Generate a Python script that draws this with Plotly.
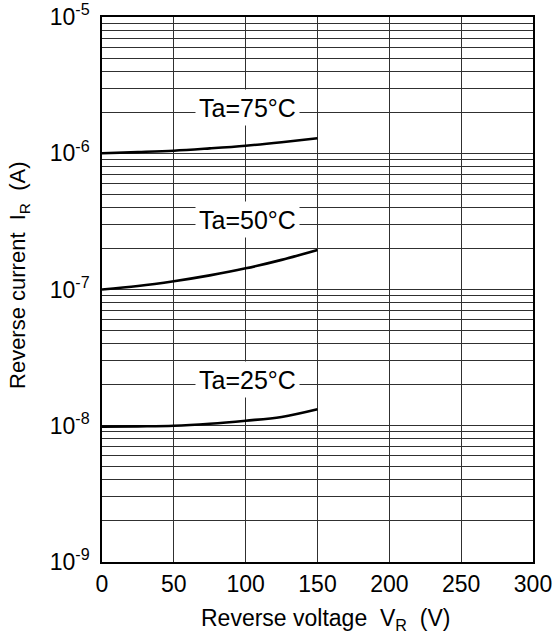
import plotly.graph_objects as go

# Data
voltage = [0, 25, 50, 75, 100, 125, 150]
ir_75 = [1.00e-6, 1.02e-6, 1.044e-6, 1.086e-6, 1.136e-6, 1.205e-6, 1.288e-6]
ir_50 = [1.00e-7, 1.06e-7, 1.15e-7, 1.27e-7, 1.43e-7, 1.65e-7, 1.95e-7]
ir_25 = [0.985e-8, 0.99e-8, 1.00e-8, 1.035e-8, 1.089e-8, 1.16e-8, 1.32e-8]

labels = ["Ta=75°C", "Ta=50°C", "Ta=25°C"]
label_x = [101.5, 101.5, 101.5]
label_logy = [-5.665, -6.489, -7.66]

x_ticks = [0, 50, 100, 150, 200, 250, 300]
y_major = [1e-9, 1e-8, 1e-7, 1e-6, 1e-5]
y_major_text = ["10<sup>-9</sup>", "10<sup>-8</sup>", "10<sup>-7</sup>",
                "10<sup>-6</sup>", "10<sup>-5</sup>"]
y_minor = [k * 10.0 ** d for d in (-9, -8, -7, -6) for k in range(2, 10)]

x_title = "Reverse voltage  V<sub>R</sub>  (V)"
y_title = "Reverse current  I<sub>R</sub>  (A)"

FONT = "Liberation Sans, Arial, sans-serif"
GRID = "#303030"

fig = go.Figure()
for ys in (ir_75, ir_50, ir_25):
    fig.add_trace(go.Scatter(x=voltage, y=ys, mode="lines",
                             line=dict(color="black", width=2.6, shape="spline"),
                             showlegend=False, hoverinfo="skip"))

for t, xx, yy in zip(labels, label_x, label_logy):
    fig.add_annotation(x=xx, y=yy, xref="x", yref="y", text=t, showarrow=False,
                       font=dict(family=FONT, size=25, color="black"),
                       bgcolor="white", width=101, height=33, borderpad=1)

# axis titles (placed as in the reference, slightly off-centre)
fig.add_annotation(x=0.5197, y=-0.106, xref="paper", yref="paper", text=x_title,
                   showarrow=False, xanchor="center", yanchor="middle",
                   font=dict(family=FONT, size=23, color="black"))
fig.add_annotation(x=-0.1926, y=0.5266, xref="paper", yref="paper", text=y_title,
                   showarrow=False, xanchor="center", yanchor="middle", textangle=-90,
                   font=dict(family=FONT, size=22, color="black"))

fig.update_layout(
    width=560, height=637,
    margin=dict(l=102, r=27, t=17, b=75),
    paper_bgcolor="white", plot_bgcolor="white",
    font=dict(family=FONT, color="black"),
)
fig.update_xaxes(
    range=[0, 300], tickvals=x_ticks, ticktext=[str(v) for v in x_ticks],
    showgrid=True, gridcolor=GRID, gridwidth=1, automargin=False,
    showline=True, linecolor="black", linewidth=1.5, mirror=True,
    zeroline=False, ticks="", ticklabelstandoff=1,
    tickfont=dict(size=23, family=FONT),
)
fig.update_yaxes(
    type="log", range=[-9, -5], tickvals=y_major, ticktext=y_major_text,
    showgrid=True, gridcolor=GRID, gridwidth=1, automargin=False,
    minor=dict(tickvals=y_minor, showgrid=True, gridcolor=GRID, gridwidth=1, ticks=""),
    showline=True, linecolor="black", linewidth=1.5, mirror=True,
    zeroline=False, ticks="", ticklabelstandoff=6,
    tickfont=dict(size=23, family=FONT),
)

fig.write_html("out.html", config={"displayModeBar": False},
               post_script="document.body.style.margin='0';document.body.style.overflow='hidden';")
